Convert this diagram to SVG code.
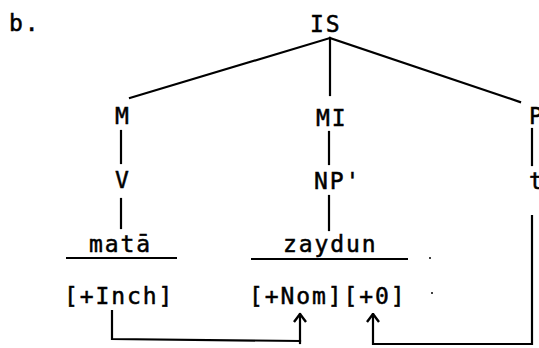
<svg xmlns="http://www.w3.org/2000/svg" width="539" height="348" viewBox="0 0 539 348">
<style>
text { font-family: "DejaVu Sans Mono", "Liberation Mono", monospace; font-size: 23px; letter-spacing: 1.9px; fill: #000; stroke: #000; stroke-width: 0.5px; }
.ln { stroke: #000; stroke-width: 2.2; fill: none; stroke-linecap: square; }
.ul { stroke: #000; stroke-width: 2; fill: none; }
</style>
<defs>
<marker id="up" viewBox="0 0 10 14" refX="9" refY="7" markerWidth="10" markerHeight="14" markerUnits="userSpaceOnUse" orient="auto">
<path d="M1 1 L9 7 L1 13" stroke="#000" stroke-width="2.4" fill="none"/>
</marker>
</defs>
<rect width="539" height="348" fill="#fff"/>
<g id="label-b"><text x="9" y="31">b.</text></g>
<g id="node-IS"><text x="310" y="32">IS</text></g>
<g id="node-M"><text x="115" y="124">M</text></g>
<g id="node-MI"><text x="316" y="126">MI</text></g>
<g id="node-P"><text x="529" y="124">P</text></g>
<g id="node-V"><text x="115" y="188">V</text></g>
<g id="node-NP"><text x="314" y="189">NP'</text></g>
<g id="node-t"><text x="529" y="189">t</text></g>
<g id="node-mata"><text x="89" y="252">matā</text><line class="ul" x1="66" y1="258" x2="177" y2="258"/></g>
<g id="node-zaydun"><text x="283" y="252">zaydun</text><line class="ul" x1="251" y1="259" x2="408" y2="259"/></g>
<g id="node-inch"><text x="64" y="304">[+Inch]</text></g>
<g id="node-nom"><text x="249" y="304">[+Nom][+0]</text></g>
<g id="connectors">
<line class="ln" x1="330" y1="38" x2="130" y2="98"/>
<line class="ln" x1="330" y1="38" x2="330" y2="95"/>
<line class="ln" x1="330" y1="38" x2="520" y2="102"/>
<line class="ln" x1="121" y1="131" x2="121" y2="163"/>
<line class="ln" x1="121" y1="199" x2="121" y2="228"/>
<line class="ln" x1="329" y1="132" x2="329" y2="164"/>
<line class="ln" x1="329" y1="196" x2="329" y2="230"/>
<line class="ln" x1="532" y1="129" x2="532" y2="165"/>
<polyline class="ln" points="112,311 112,339 300,341"/>
<line class="ln" x1="300" y1="343" x2="300" y2="314" marker-end="url(#up)"/>
<polyline class="ln" points="532,216 532,344 373,344 373,314" marker-end="url(#up)"/>
<circle cx="430" cy="258" r="1" fill="#000"/>
<circle cx="432" cy="293" r="1" fill="#000"/>
</g>
</svg>
